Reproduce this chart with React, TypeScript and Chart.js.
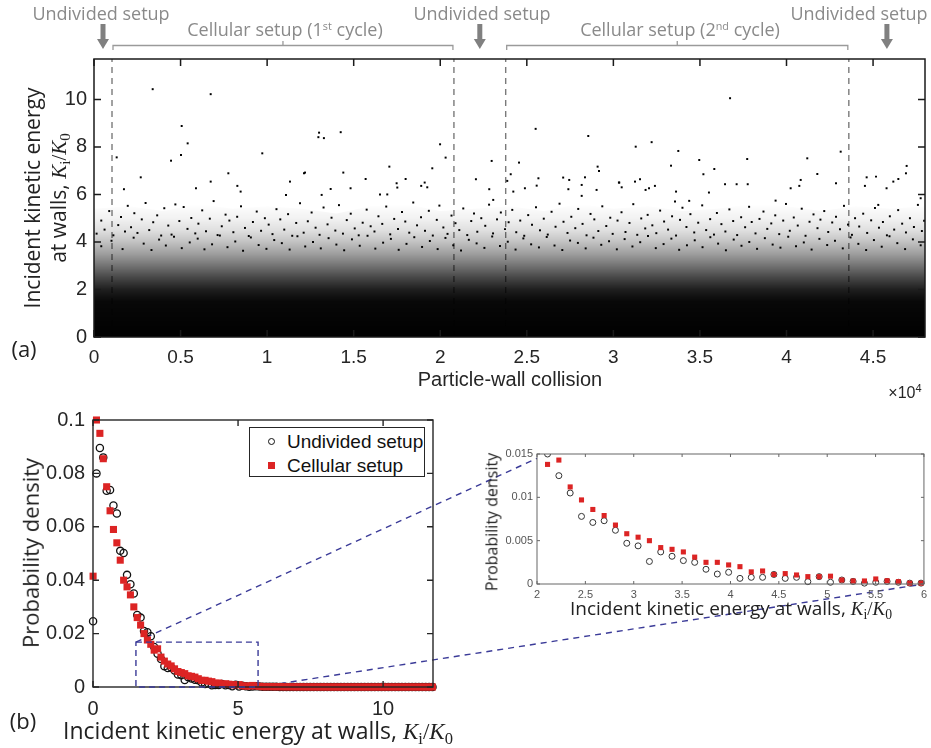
import React, { useEffect, useRef } from "react";
import { Chart, registerables } from "chart.js";

Chart.register(...registerables);

// ---------------- Panel (a): incident kinetic energy per particle-wall collision ----------------
const collisionMax = 48000;
const energyMaxA = 11.7;
const xTicksA = [0, 5000, 10000, 15000, 20000, 25000, 30000, 35000, 40000, 45000];
const yTicksA = [0, 2, 4, 6, 8, 10];
// collision index where the setup switches (undivided <-> cellular)
const setupBoundaries = [1040, 20790, 23780, 43600];
// upper extent of the dense cloud of collisions, per 2000-collision bin
const cloudBinCollision = [0, 2000, 4000, 6000, 8000, 10000, 12000, 14000, 16000, 18000, 20000, 22000, 24000, 26000, 28000, 30000, 32000, 34000, 36000, 38000, 40000, 42000, 44000, 46000, 48000];
const cloudTop = [5.4, 5.5, 5.3, 5.6, 5.4, 5.5, 5.4, 5.2, 5.5, 5.6, 5.3, 5.4, 5.5, 5.3, 5.6, 5.4, 5.5, 5.3, 5.4, 5.6, 5.5, 5.3, 5.5, 5.4, 5.5];
// individually visible collisions [collision index, Ki/K0]
const sparseHits: [number, number][] = [
  [3390, 10.43], [6740, 10.22], [36740, 10.05], [5065, 8.88], [5410, 8.15], [5025, 7.66], [4450, 7.42], [1310, 7.56], [2700, 6.72], [1730, 6.22],
  [5890, 6.26], [6740, 6.54], [7760, 6.89], [8280, 6.36], [8470, 6.12], [9720, 7.73], [11320, 6.54], [11090, 5.98], [12190, 6.92], [12960, 8.41],
  [13000, 8.6], [13280, 8.37], [14250, 8.62], [12130, 6.89], [14400, 6.92], [15690, 6.65], [17060, 7.17], [18000, 6.65], [17480, 6.47], [17520, 6.29],
  [19990, 8.11], [20310, 7.55], [19540, 7.1], [19100, 6.5], [18900, 6.36], [19250, 6.3], [13670, 6.23], [13150, 5.98], [14820, 6.26], [16520, 6.0],
  [16940, 6.0], [22970, 7.41], [22060, 6.64], [22830, 6.22], [23060, 5.77], [24550, 7.34], [25510, 8.76], [25670, 6.68], [25570, 6.37], [24070, 6.85],
  [23870, 6.57], [24220, 6.12], [24890, 6.26], [28550, 8.46], [29090, 7.17], [29170, 6.99], [27100, 6.71], [27450, 6.61], [27400, 6.22], [28360, 6.72],
  [28170, 6.4], [29030, 6.19], [28170, 5.94], [30340, 6.5], [31290, 8.01], [32210, 8.2], [33750, 7.83], [33330, 7.21], [34960, 7.45], [35200, 6.85],
  [35830, 7.07], [37730, 7.49], [36450, 6.43], [37120, 6.43], [37760, 6.43], [41200, 7.52], [41780, 6.86], [43130, 7.8], [42860, 6.47], [40820, 6.61],
  [40740, 6.36], [40240, 6.26], [39370, 5.74], [30320, 6.5], [30480, 6.3], [31250, 6.54], [31540, 6.64], [31860, 6.19], [32060, 6.26], [32400, 6.36],
  [33620, 6.12], [33560, 5.7], [34380, 5.73], [35520, 6.08], [44530, 6.36], [45170, 6.75], [44630, 6.72], [45780, 6.26], [46170, 6.54], [46460, 6.65],
  [46940, 7.2], [46900, 6.89], [47750, 5.84], [45300, 5.56],
  [150, 4.35], [420, 4.9], [610, 4.52], [880, 5.3], [1120, 4.28], [1400, 4.71], [1560, 5.05], [1790, 4.44], [1950, 5.52],
  [2140, 4.62], [2330, 5.21], [2510, 4.38], [2760, 4.95], [2980, 5.64], [3190, 4.5], [3420, 4.83], [3650, 5.12], [3880, 4.27],
  [4060, 5.42], [4290, 4.69], [4480, 4.31], [4700, 5.58], [4930, 4.88], [5180, 5.47], [5400, 4.55], [5620, 5.01], [5850, 4.36],
  [6030, 4.77], [6250, 5.33], [6470, 4.45], [6690, 4.98], [6910, 5.72], [7140, 4.29], [7380, 4.66], [7600, 5.15], [7820, 4.9],
  [8050, 4.41], [8270, 5.06], [8490, 5.5], [8720, 4.59], [8940, 4.25], [9180, 4.84], [9400, 5.28], [9650, 4.47], [9870, 5.0],
  [10090, 4.73], [10310, 4.33], [10540, 5.38], [10760, 4.95], [10990, 4.52], [11210, 5.17], [11450, 4.26], [11680, 4.8], [11900, 5.63],
  [12110, 4.39], [12350, 4.87], [12570, 5.24], [12800, 4.6], [13030, 4.3], [13260, 5.45], [13490, 4.74], [13720, 5.02], [13940, 4.48],
  [14150, 5.55], [14380, 4.35], [14600, 4.92], [14830, 5.19], [15060, 4.57], [15290, 4.28], [15520, 4.81], [15750, 5.36], [15980, 4.66],
  [16200, 4.44], [16430, 5.08], [16650, 4.76], [16880, 5.49], [17110, 4.32], [17340, 4.97], [17560, 4.55], [17790, 5.26], [17980, 4.86],
  [18210, 4.39], [18440, 5.66], [18660, 4.7], [18890, 5.04], [19120, 4.47], [19340, 5.31], [19570, 4.27], [19800, 4.93], [19950, 5.53],
  [20180, 4.61], [20420, 4.34], [20650, 5.11], [20880, 4.79], [21100, 4.5], [21330, 5.41], [21560, 4.29], [21790, 4.88], [21950, 5.2],
  [22140, 4.43], [22370, 5.0], [22600, 4.68], [22820, 5.57], [23050, 4.36], [23280, 4.95], [23500, 5.24], [23740, 4.54], [23950, 4.83],
  [24160, 5.35], [24390, 4.41], [24620, 4.9], [24850, 4.26], [25080, 5.13], [25300, 4.72], [25530, 5.46], [25760, 4.49], [25980, 4.98],
  [26210, 4.31], [26430, 5.27], [26660, 4.64], [26890, 5.61], [27120, 4.85], [27350, 4.38], [27570, 5.06], [27800, 4.58], [27970, 5.39],
  [28220, 4.76], [28450, 4.28], [28680, 5.18], [28900, 4.95], [29130, 4.46], [29360, 5.5], [29590, 4.67], [29820, 5.02], [29960, 4.34],
  [30240, 4.9], [30470, 5.25], [30700, 4.42], [30930, 4.8], [31150, 5.59], [31380, 4.3], [31610, 4.99], [31840, 4.57], [31980, 5.14],
  [32250, 4.7], [32480, 4.37], [32700, 5.32], [32930, 4.86], [33160, 4.52], [33390, 5.08], [33620, 4.27], [33850, 4.93], [33990, 5.44],
  [34220, 4.63], [34450, 5.17], [34670, 4.4], [34900, 4.81], [35130, 5.54], [35360, 4.5], [35590, 4.96], [35810, 4.31], [35980, 5.22],
  [36240, 4.75], [36470, 4.44], [36700, 5.37], [36920, 4.88], [37150, 4.29], [37380, 5.04], [37610, 4.62], [37840, 5.48], [37990, 4.84],
  [38210, 4.36], [38440, 4.97], [38670, 5.28], [38890, 4.55], [39120, 4.78], [39350, 5.12], [39580, 4.33], [39810, 4.9], [39970, 5.6],
  [40190, 4.47], [40420, 5.03], [40650, 4.69], [40880, 5.4], [41100, 4.26], [41330, 4.85], [41560, 5.16], [41790, 4.58], [41960, 4.94],
  [42180, 5.3], [42410, 4.42], [42640, 4.82], [42860, 5.06], [43090, 4.53], [43320, 5.52], [43550, 4.73], [43780, 4.3], [43960, 5.0],
  [44200, 4.65], [44430, 5.19], [44660, 4.38], [44890, 4.91], [45110, 5.43], [45340, 4.6], [45570, 4.84], [45800, 4.28], [45970, 5.08],
  [46220, 4.52], [46450, 5.34], [46680, 4.77], [46900, 4.4], [47130, 5.0], [47360, 4.63], [47590, 5.56], [47820, 4.46], [47950, 4.89],
  [420, 3.82], [1010, 4.05], [1650, 3.7], [2290, 4.18], [2870, 3.93], [3320, 3.66], [3760, 4.1], [4150, 3.85], [4620, 4.22], [5070, 3.74],
  [5530, 3.98], [5990, 4.14], [6380, 3.69], [6820, 3.9], [7270, 4.27], [7710, 3.78], [8160, 4.02], [8610, 3.63], [9060, 4.19], [9510, 3.87],
  [9960, 3.71], [10410, 4.08], [10850, 3.95], [11300, 3.68], [11750, 4.24], [12200, 3.81], [12650, 4.0], [13100, 3.73], [13550, 4.16], [14000, 3.89],
  [14450, 3.65], [14900, 4.11], [15350, 3.84], [15800, 4.26], [16250, 3.72], [16700, 3.97], [17150, 4.13], [17600, 3.67], [18050, 3.92], [18500, 4.2],
  [18950, 3.79], [19400, 4.04], [19850, 3.7], [20300, 4.17], [20750, 3.86], [21200, 3.64], [21650, 4.09], [22100, 3.94], [22550, 3.75], [23000, 4.23],
  [23450, 3.83], [23900, 4.01], [24350, 3.68], [24800, 4.15], [25250, 3.9], [25700, 3.77], [26150, 4.21], [26600, 3.85], [27050, 3.66], [27500, 4.06],
  [27950, 3.96], [28400, 3.73], [28850, 4.18], [29300, 3.88], [29750, 4.03], [30200, 3.69], [30650, 4.12], [31100, 3.81], [31550, 3.99], [32000, 4.25],
  [32450, 3.74], [32900, 3.91], [33350, 4.14], [33800, 3.67], [34250, 3.86], [34700, 4.07], [35150, 3.78], [35600, 4.2], [36050, 3.93], [36500, 3.65],
  [36950, 4.1], [37400, 3.84], [37850, 4.0], [38300, 3.71], [38750, 4.16], [39200, 3.89], [39650, 3.76], [40100, 4.22], [40550, 3.82], [41000, 3.98],
  [41450, 3.68], [41900, 4.13], [42350, 3.87], [42800, 4.05], [43250, 3.73], [43700, 4.19], [44150, 3.92], [44600, 3.66], [45050, 4.08], [45500, 3.8],
  [45950, 4.24], [46400, 3.95], [46850, 3.7], [47300, 4.11], [47750, 3.86],
];

// ---------------- Panel (b): probability density of Ki/K0 ----------------
const binCenters = [
  0.003, 0.12, 0.237, 0.354, 0.471, 0.588, 0.705, 0.822, 0.939, 1.056, 1.173, 1.29, 1.407, 1.524, 1.641, 1.758, 1.875, 1.992, 2.109, 2.226,
  2.343, 2.46, 2.577, 2.694, 2.811, 2.928, 3.045, 3.162, 3.279, 3.396, 3.513, 3.63, 3.747, 3.864, 3.981, 4.098, 4.215, 4.332, 4.449, 4.566,
  4.683, 4.8, 4.917, 5.034, 5.151, 5.268, 5.385, 5.502, 5.619, 5.736, 5.853, 5.97, 6.087, 6.204, 6.321, 6.438, 6.555, 6.672, 6.789, 6.906,
  7.023, 7.14, 7.257, 7.374, 7.491, 7.608, 7.725, 7.842, 7.959, 8.076, 8.193, 8.31, 8.427, 8.544, 8.661, 8.778, 8.895, 9.012, 9.129, 9.246,
  9.363, 9.48, 9.597, 9.714, 9.831, 9.948, 10.065, 10.182, 10.299, 10.416, 10.533, 10.65, 10.767, 10.884, 11.001, 11.118, 11.235, 11.352, 11.469, 11.586,
  11.703,
];
const undividedPdf = [
  0.0246, 0.080, 0.0895, 0.086, 0.0735, 0.0738, 0.068, 0.065, 0.051, 0.0502, 0.042, 0.0385, 0.035, 0.027, 0.026, 0.021, 0.0205, 0.019, 0.015, 0.0125,
  0.0105, 0.0078, 0.0071, 0.0073, 0.0062, 0.0047, 0.0044, 0.0026, 0.0037, 0.0032, 0.0027, 0.0025, 0.0017, 0.00115, 0.00135, 0.00065, 0.00077, 0.00077, 0.0011, 0.00065,
  0.00077, 0.00027, 0.00085, 0.0002, 0.00046, 0.0003, 0.0001, 0.0002, 0.0003, 0.0002, 0.0001, 0.0001, 0.00008, 0.00005, 0.00006, 0.00003, 0.00004, 0.00002, 0.00003, 0.00002,
  0.00001, 0.00002, 0.00001, 0, 0, 0, 0, 0, 0, 0, 0, 0, 0, 0, 0, 0, 0, 0, 0, 0,
  0, 0, 0, 0, 0, 0, 0, 0, 0, 0, 0, 0, 0, 0, 0, 0, 0, 0, 0, 0,
  0,
];
const cellularPdf = [
  0.0415, 0.100, 0.095, 0.0855, 0.075, 0.066, 0.059, 0.054, 0.0475, 0.040, 0.0375, 0.0345, 0.030, 0.026, 0.0232, 0.020, 0.0176, 0.016, 0.0138, 0.0143,
  0.0112, 0.0097, 0.0086, 0.0079, 0.0068, 0.0058, 0.0054, 0.005, 0.0042, 0.004, 0.0037, 0.0031, 0.0025, 0.0025, 0.0022, 0.002, 0.0014, 0.0015, 0.0011, 0.0012,
  0.00104, 0.00085, 0.00085, 0.0009, 0.00046, 0.00035, 0.00035, 0.00058, 0.00038, 0.00027, 0.0001, 0.0001, 0.00012, 0.0001, 0.00008, 0.00009, 0.00006, 0.00005, 0.00007, 0.00004,
  0.00003, 0.00005, 0.00002, 0.00003, 0.00002, 0.00002, 0.00001, 0.00002, 0.00001, 0.00001, 0, 0, 0, 0, 0, 0, 0, 0, 0, 0,
  0, 0, 0, 0, 0, 0, 0, 0, 0, 0, 0, 0, 0, 0, 0, 0, 0, 0, 0, 0,
  0,
];
const xMaxB = 11.72;
const xTicksB = [0, 5, 10];
const yTicksB = [0, 0.02, 0.04, 0.06, 0.08, 0.1];
const zoomWindowX = [1.48, 5.69];
const zoomWindowY = [0, 0.0168];
// inset (zoom of panel b)
const insetX = [2, 6];
const insetY = [0, 0.015];
const xTicksInset = [2, 2.5, 3, 3.5, 4, 4.5, 5, 5.5, 6];
const yTicksInset = [0, 0.005, 0.01, 0.015];
const connectorInsetTopY = 0.0145;

// ---------------- layout (px) ----------------
const A = { left: 0, top: 0, w: 931, h: 380 };
const B = { left: 0, top: 400, w: 470, h: 320 };
const I = { left: 470, top: 440, w: 461, h: 170 };

const SANS = "'Liberation Sans', Arial, Helvetica, sans-serif";
const HUMAN = "'Open Sans', 'Noto Sans', sans-serif";
const RED = "#dc2424";
const BLUE = "#3b3b98";

const boxFrame = {
  id: "boxFrame",
  afterDatasetsDraw(chart: any, _args: any, opts: any) {
    const { ctx, chartArea: a, scales } = chart;
    const x = scales.x, y = scales.y;
    const len = opts.tickLength;
    ctx.save();
    ctx.strokeStyle = opts.color;
    ctx.lineWidth = opts.lineWidth;
    ctx.beginPath();
    for (const t of x.ticks) {
      const px = x.getPixelForValue(t.value);
      ctx.moveTo(px, a.bottom); ctx.lineTo(px, a.bottom - len);
      ctx.moveTo(px, a.top); ctx.lineTo(px, a.top + len);
    }
    for (const t of y.ticks) {
      const py = y.getPixelForValue(t.value);
      ctx.moveTo(a.left, py); ctx.lineTo(a.left + len, py);
      ctx.moveTo(a.right, py); ctx.lineTo(a.right - len, py);
    }
    ctx.stroke();
    ctx.strokeRect(a.left, a.top, a.right - a.left, a.bottom - a.top);
    ctx.restore();
  },
};

const setupMarks = {
  id: "setupMarks",
  afterDraw(chart: any) {
    const { ctx, scales } = chart;
    const x = scales.x;
    const b = setupBoundaries.map((v) => x.getPixelForValue(v));
    const L = x.getPixelForValue(0), R = x.getPixelForValue(collisionMax);
    const arrows = [(L + b[0]) / 2, (b[1] + b[2]) / 2, (b[3] + R) / 2];
    ctx.save();
    ctx.fillStyle = "#808080";
    for (const cx of arrows) {
      ctx.fillRect(cx - 2.5, 24, 5, 16);
      ctx.beginPath();
      ctx.moveTo(cx - 6, 39); ctx.lineTo(cx + 6, 39); ctx.lineTo(cx, 49); ctx.closePath();
      ctx.fill();
    }
    ctx.strokeStyle = "#9a9a9a";
    ctx.lineWidth = 1.3;
    for (const [l, r] of [[b[0], b[1]], [b[2], b[3]]]) {
      const m = (l + r) / 2;
      ctx.beginPath();
      ctx.moveTo(l + 1, 50); ctx.lineTo(l + 1, 45.5); ctx.lineTo(r - 1, 45.5); ctx.lineTo(r - 1, 50);
      ctx.moveTo(m, 45.5); ctx.lineTo(m, 41);
      ctx.stroke();
    }
    ctx.restore();
  },
};

const zoomRect = {
  id: "zoomRect",
  afterDatasetsDraw(chart: any) {
    const { ctx, scales } = chart;
    const x0 = scales.x.getPixelForValue(zoomWindowX[0]);
    const x1 = scales.x.getPixelForValue(zoomWindowX[1]);
    const y0 = scales.y.getPixelForValue(zoomWindowY[0]);
    const y1 = scales.y.getPixelForValue(zoomWindowY[1]);
    ctx.save();
    ctx.strokeStyle = BLUE;
    ctx.lineWidth = 1.4;
    ctx.setLineDash([6, 4]);
    ctx.strokeRect(x0, y1, x1 - x0, y0 - y1);
    ctx.restore();
  },
};

function cloudGradient(c: any) {
  const chart = c.chart;
  if (!chart.chartArea) return "rgba(0,0,0,0.5)";
  const ys = chart.scales.y;
  const top = 5.6;
  const p0 = ys.getPixelForValue(0), pT = ys.getPixelForValue(top);
  const g = chart.ctx.createLinearGradient(0, p0, 0, pT);
  const stops: [number, number][] = [[0, 1], [1.5, 0.97], [2.0, 0.88], [2.5, 0.72], [3.0, 0.55], [3.5, 0.38], [4.0, 0.24], [4.5, 0.12], [5.0, 0.05], [5.6, 0]];
  for (const [v, a] of stops) g.addColorStop(v / top, `rgba(0,0,0,${a})`);
  return g;
}

function fixedTicks(values: number[]) {
  return (s: any) => { s.ticks = values.map((v) => ({ value: v })); };
}
const fmt = (v: any) => String(Number(Number(v).toFixed(4)));

function Label(props: { x: number; y: number; rot?: number; style?: React.CSSProperties; children: React.ReactNode }) {
  const { x, y, rot, style, children } = props;
  return (
    <div style={{ position: "absolute", left: x, top: y, transform: `translate(-50%,-50%)${rot ? ` rotate(${rot}deg)` : ""}`, whiteSpace: "nowrap", lineHeight: 1.2, ...style }}>
      {children}
    </div>
  );
}

function KRatio() {
  const sub: React.CSSProperties = { fontSize: "0.72em", verticalAlign: "-0.3em", lineHeight: 0, fontStyle: "normal" };
  return (
    <span style={{ fontFamily: "'Liberation Serif', 'DejaVu Serif', serif" }}>
      <i>K</i><span style={sub}>i</span>/<i>K</i><span style={sub}>0</span>
    </span>
  );
}

export default function App() {
  const aRef = useRef<HTMLCanvasElement>(null);
  const bRef = useRef<HTMLCanvasElement>(null);
  const iRef = useRef<HTMLCanvasElement>(null);
  const oRef = useRef<HTMLCanvasElement>(null);

  useEffect(() => {
    const charts: Chart[] = [];
    const noPlug = { legend: { display: false }, tooltip: { enabled: false } };

    // ---- panel (a)
    const chartA = new Chart(aRef.current!, {
      type: "scatter",
      data: {
        datasets: [
          ...setupBoundaries.map((v) => ({
            data: [{ x: v, y: 0 }, { x: v, y: energyMaxA }],
            showLine: true, borderColor: "#7a7a7a", borderWidth: 1.4, borderDash: [6, 5], pointRadius: 0, order: 4,
          })),
          {
            data: cloudBinCollision.map((c, i) => ({ x: c, y: cloudTop[i] })),
            showLine: true, fill: "origin", borderWidth: 0, pointRadius: 0, backgroundColor: cloudGradient, order: 3,
          },
          {
            data: sparseHits.map(([x, y]) => ({ x, y })),
            pointRadius: 1.4, pointStyle: "rect", backgroundColor: "#000", borderWidth: 0, order: 1,
          },
        ] as any,
      },
      options: {
        responsive: false, animation: false, devicePixelRatio: 1, events: [],
        layout: { padding: { left: 0, right: A.w - 925, top: 59, bottom: 0 } },
        plugins: { ...noPlug, boxFrame: { color: "#1a1a1a", lineWidth: 1.5, tickLength: 7 } } as any,
        scales: {
          x: {
            type: "linear", min: 0, max: collisionMax,
            afterBuildTicks: fixedTicks(xTicksA), afterFit: (s: any) => { s.height = A.h - 337; },
            grid: { display: false, drawTicks: false }, border: { display: false },
            ticks: { padding: 9, color: "#262626", font: { family: SANS, size: 19 }, maxRotation: 0, autoSkip: false, callback: (v: any) => fmt(Number(v) / 1e4) },
          },
          y: {
            type: "linear", min: 0, max: energyMaxA,
            afterBuildTicks: fixedTicks(yTicksA), afterFit: (s: any) => { s.width = 94; },
            grid: { display: false, drawTicks: false }, border: { display: false },
            ticks: { padding: 7, color: "#262626", font: { family: SANS, size: 20 }, autoSkip: false, callback: fmt },
          },
        },
      } as any,
      plugins: [boxFrame, setupMarks],
    });
    charts.push(chartA);

    // ---- panel (b)
    const undividedPts = binCenters.map((x, i) => ({ x, y: undividedPdf[i] }));
    const cellularPts = binCenters.map((x, i) => ({ x, y: cellularPdf[i] }));
    const chartB = new Chart(bRef.current!, {
      type: "scatter",
      data: {
        datasets: [
          { label: "Cellular setup", data: cellularPts, pointStyle: "rect", pointRadius: 5, backgroundColor: RED, borderWidth: 0, order: 1, clip: false },
          { label: "Undivided setup", data: undividedPts, pointStyle: "circle", pointRadius: 3.6, backgroundColor: "rgba(0,0,0,0)", borderColor: "#111", borderWidth: 1.3, order: 2, clip: false },
        ] as any,
      },
      options: {
        responsive: false, animation: false, devicePixelRatio: 1, events: [],
        layout: { padding: { left: 0, right: B.w - 433, top: 419 - B.top, bottom: 0 } },
        plugins: { ...noPlug, boxFrame: { color: "#262626", lineWidth: 1.4, tickLength: 6 } } as any,
        scales: {
          x: {
            type: "linear", min: 0, max: xMaxB,
            afterBuildTicks: fixedTicks(xTicksB), afterFit: (s: any) => { s.height = B.top + B.h - 687; },
            grid: { display: false, drawTicks: false }, border: { display: false },
            ticks: { padding: 10, color: "#262626", font: { family: SANS, size: 20 }, maxRotation: 0, autoSkip: false, callback: fmt },
          },
          y: {
            type: "linear", min: 0, max: 0.1,
            afterBuildTicks: fixedTicks(yTicksB), afterFit: (s: any) => { s.width = 93; },
            grid: { display: false, drawTicks: false }, border: { display: false },
            ticks: { padding: 8, color: "#262626", font: { family: SANS, size: 20 }, autoSkip: false, callback: fmt },
          },
        },
      } as any,
      plugins: [boxFrame, zoomRect],
    });
    charts.push(chartB);

    // ---- inset
    const chartI = new Chart(iRef.current!, {
      type: "scatter",
      data: {
        datasets: [
          { data: cellularPts, pointStyle: "rect", pointRadius: 3.6, backgroundColor: RED, borderWidth: 0, order: 1, clip: { left: 0, top: 0, right: 8, bottom: 8 } },
          { data: undividedPts, pointStyle: "circle", pointRadius: 3, backgroundColor: "rgba(0,0,0,0)", borderColor: "#333", borderWidth: 1, order: 2, clip: { left: 0, top: 0, right: 8, bottom: 8 } },
        ] as any,
      },
      options: {
        responsive: false, animation: false, devicePixelRatio: 1, events: [],
        layout: { padding: { left: 0, right: I.left + I.w - 925, top: 454 - I.top, bottom: 0 } },
        plugins: { ...noPlug, boxFrame: { color: "#666", lineWidth: 1, tickLength: 3 } } as any,
        scales: {
          x: {
            type: "linear", min: insetX[0], max: insetX[1],
            afterBuildTicks: fixedTicks(xTicksInset), afterFit: (s: any) => { s.height = I.top + I.h - 584; },
            grid: { display: false, drawTicks: false }, border: { display: false },
            ticks: { padding: 4, color: "#555", font: { family: SANS, size: 11 }, maxRotation: 0, autoSkip: false, callback: fmt },
          },
          y: {
            type: "linear", min: insetY[0], max: insetY[1],
            afterBuildTicks: fixedTicks(yTicksInset), afterFit: (s: any) => { s.width = 537 - I.left; },
            grid: { display: false, drawTicks: false }, border: { display: false },
            ticks: { padding: 4, color: "#555", font: { family: SANS, size: 11 }, autoSkip: false, callback: fmt },
          },
        },
      } as any,
      plugins: [boxFrame],
    });
    charts.push(chartI);

    // ---- connector lines from the zoom window of (b) to the inset
    const ov = oRef.current!;
    const o = ov.getContext("2d")!;
    o.clearRect(0, 0, ov.width, ov.height);
    const pt = (ch: Chart, off: { left: number; top: number }, vx: number, vy: number) =>
      [off.left + (ch.scales as any).x.getPixelForValue(vx), off.top + (ch.scales as any).y.getPixelForValue(vy)];
    const segs = [
      [pt(chartB, B, zoomWindowX[0], zoomWindowY[1]), pt(chartI, I, insetX[0], connectorInsetTopY)],
      [pt(chartB, B, zoomWindowX[1], zoomWindowY[0]), pt(chartI, I, insetX[1], insetY[0])],
    ];
    o.save();
    o.strokeStyle = BLUE;
    o.lineWidth = 1.4;
    o.setLineDash([6, 5]);
    for (const [p, q] of segs) {
      o.beginPath(); o.moveTo(p[0], p[1]); o.lineTo(q[0], q[1]); o.stroke();
    }
    o.restore();

    return () => { charts.forEach((c) => c.destroy()); };
  }, []);

  const gray: React.CSSProperties = { color: "#8a8a8a", fontFamily: HUMAN, fontSize: 18 };
  const dark: React.CSSProperties = { color: "#222", fontFamily: HUMAN };
  const supS: React.CSSProperties = { fontSize: "0.6em", verticalAlign: "0.6em", lineHeight: 0 };
  const cv = (r: any, p: { left: number; top: number; w: number; h: number }) => (
    <canvas ref={r} width={p.w} height={p.h} style={{ position: "absolute", left: p.left, top: p.top, width: p.w, height: p.h }} />
  );

  return (
    <div style={{ position: "absolute", left: 0, top: 0, width: 931, height: 748, background: "#fff", overflow: "hidden" }}>
      <canvas ref={oRef} width={931} height={748} style={{ position: "absolute", left: 0, top: 0, width: 931, height: 748 }} />
      {cv(aRef, A)}
      {cv(bRef, B)}
      {cv(iRef, I)}

      {/* setup annotations */}
      <Label x={101} y={14} style={gray}>Undivided setup</Label>
      <Label x={285} y={30} style={gray}>Cellular setup (1<span style={supS}>st</span> cycle)</Label>
      <Label x={482} y={14} style={gray}>Undivided setup</Label>
      <Label x={680} y={30} style={gray}>Cellular setup (2<span style={supS}>nd</span> cycle)</Label>
      <Label x={859} y={14} style={gray}>Undivided setup</Label>

      {/* panel (a) titles */}
      <Label x={45} y={198} rot={-90} style={{ ...dark, fontSize: 21, lineHeight: "26px", textAlign: "center" }}>
        <div>Incident kinetic energy</div>
        <div>at walls, <KRatio /></div>
      </Label>
      <Label x={510} y={379} style={{ color: "#262626", fontFamily: SANS, fontSize: 20 }}>Particle-wall collision</Label>
      <Label x={905} y={393} style={{ color: "#262626", fontFamily: SANS, fontSize: 16 }}>×10<span style={{ fontSize: 11, verticalAlign: "0.6em", lineHeight: 0 }}>4</span></Label>
      <Label x={24} y={348} style={{ ...dark, fontSize: 22 }}>(a)</Label>

      {/* panel (b) titles */}
      <Label x={30} y={553} rot={-90} style={{ ...dark, fontSize: 22 }}>Probability density</Label>
      <Label x={258} y={731} style={{ ...dark, fontSize: 23 }}>Incident kinetic energy at walls, <KRatio /></Label>
      <Label x={23} y={720} style={{ ...dark, fontSize: 22 }}>(b)</Label>

      {/* legend of (b) */}
      <div style={{ position: "absolute", left: 249, top: 427, width: 176, height: 50, boxSizing: "border-box", border: "1.5px solid #262626", background: "#fff", fontFamily: SANS, fontSize: 19, color: "#111" }}>
        <div style={{ position: "absolute", left: 18, top: 10, width: 7, height: 7, boxSizing: "border-box", border: "1.3px solid #111", borderRadius: "50%" }} />
        <div style={{ position: "absolute", left: 37, top: 3, lineHeight: "22px", whiteSpace: "nowrap" }}>Undivided setup</div>
        <div style={{ position: "absolute", left: 18, top: 34, width: 7, height: 7, background: RED }} />
        <div style={{ position: "absolute", left: 37, top: 27, lineHeight: "22px", whiteSpace: "nowrap" }}>Cellular setup</div>
      </div>

      {/* inset titles */}
      <Label x={492} y={522} rot={-90} style={{ ...dark, fontSize: 16 }}>Probability density</Label>
      <Label x={731} y={609} style={{ ...dark, fontSize: 19 }}>Incident kinetic energy at walls, <KRatio /></Label>
    </div>
  );
}
